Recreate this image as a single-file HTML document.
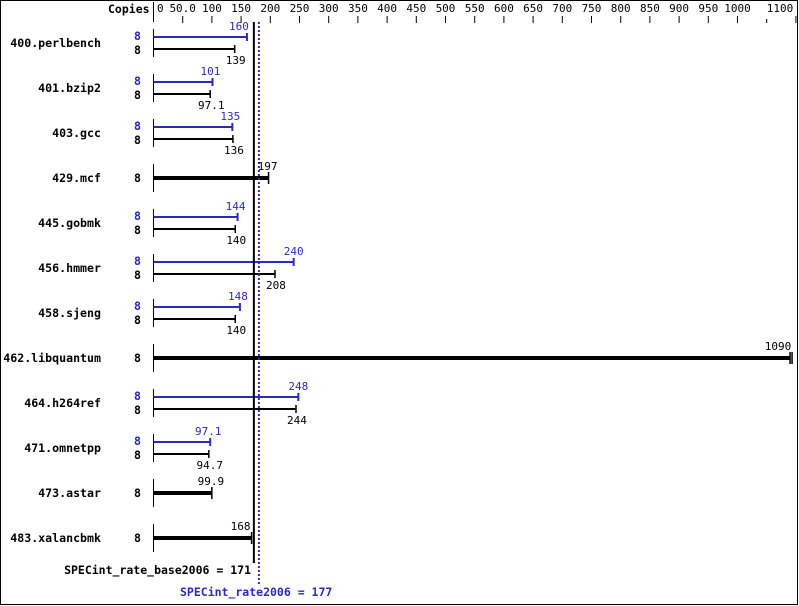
<!DOCTYPE html>
<html><head><meta charset="utf-8"><style>
html,body{margin:0;padding:0;background:#fff}
svg{display:block}
text{font-family:"DejaVu Sans Mono","Liberation Mono",monospace;font-size:11px}
.n{font-weight:bold;font-size:11.6px}
.m{font-weight:bold;font-size:11.5px}
</style></head><body>
<svg id="s" width="799" height="606" xmlns="http://www.w3.org/2000/svg">
<rect x="0.5" y="0.5" width="797" height="604" fill="#fff" stroke="#000"/>
</svg>
<script>
var s=document.getElementById('s'),h='';
function X(v){return 153.5+0.584*v;}
function L(x1,y1,x2,y2,c,w,d){h+='<line x1="'+x1+'" y1="'+y1+'" x2="'+x2+'" y2="'+y2+'" stroke="'+c+'" stroke-width="'+w+'"'+(d?' stroke-dasharray="'+d+'"':'')+'/>';}
function T(x,y,t,c,a,cl){h+='<text x="'+x+'" y="'+y+'" fill="'+c+'" text-anchor="'+(a||'start')+'"'+(cl?' class="'+cl+'"':'')+'>'+t+'</text>';}
T(108,13,'Copies','#000','start','m');
L(153.5,2,153.5,22,'#000',1);
var ticks=[0,50,100,150,200,250,300,350,400,450,500,550,600,650,700,750,800,850,900,950,1000];
ticks.forEach(function(v){var x=X(v);if(v>0){L(x,16,x,23,'#000',1);}
 T(v==0?157:x,12,v==50?'50.0':String(v),'#000',v==0?'start':'middle');});
L(X(1050),19,X(1050),23,'#000',1);L(X(1100),16,X(1100),23,'#000',1);T(780,12,'1100','#000','middle');
var B='#2b2bb8';
var rows=[['400.perlbench',160,139,'160','139',-8],['401.bzip2',101,97.1,'101','97.1',-2],['403.gcc',135,136,'135','136',-2],['429.mcf',null,197,'','197',-1],['445.gobmk',144,140,'144','140',-2],['456.hmmer',240,208,'240','208',0],['458.sjeng',148,140,'148','140',-2],['462.libquantum',null,1090,'','1090',-12],['464.h264ref',248,244,'248','244',0],['471.omnetpp',97.1,94.7,'97.1','94.7',-2],['473.astar',null,99.9,'','99.9',-1],['483.xalancbmk',null,168,'','168',-11]];
rows.forEach(function(r,i){var c=43+45*i;
 T(101,c+4,r[0],'#000','end','n');
 L(153.5,c-14,153.5,c+14,'#000',1);
 if(r[1]!==null){
  var yp=c-6,yb=c+6,xp=X(r[1]),xb=X(r[2]);
  L(153.5,yp,xp,yp,B,2);L(xp,yp-4,xp,yp+4,B,2);
  T(xp+r[5],yp-7,r[3],B,'middle');
  T(134,yp+3,'8',B,'start','n');
  L(153.5,yb,xb,yb,'#000',2);L(xb,yb-4,xb,yb+4,'#000',1.5);
  T(xb+1,yb+15,r[4],'#000','middle');
  T(134,yb+5,'8','#000','start','n');
 } else {
  var xb=X(r[2]);
  L(153.5,c,xb,c,'#000',4);L(xb,c-6,xb,c+6,'#000',1.5);
  if(r[2]>1000){L(xb+2,c-6,xb+2,c+6,'#000',1.5);}
  T(xb+r[5],c-8,r[4],'#000','middle');
  T(134,c+4,'8','#000','start','n');
 }
});
L(X(171)+0.5,22,X(171)+0.5,563,'#000',2);
L(X(177)+2,22,X(177)+2,584,B,2,'2,2');
T(251,574,'SPECint_rate_base2006 = 171','#000','end','m');
T(180,596,'SPECint_rate2006 = 177',B,'start','m');
s.insertAdjacentHTML('beforeend',h);
</script>
</body></html>
